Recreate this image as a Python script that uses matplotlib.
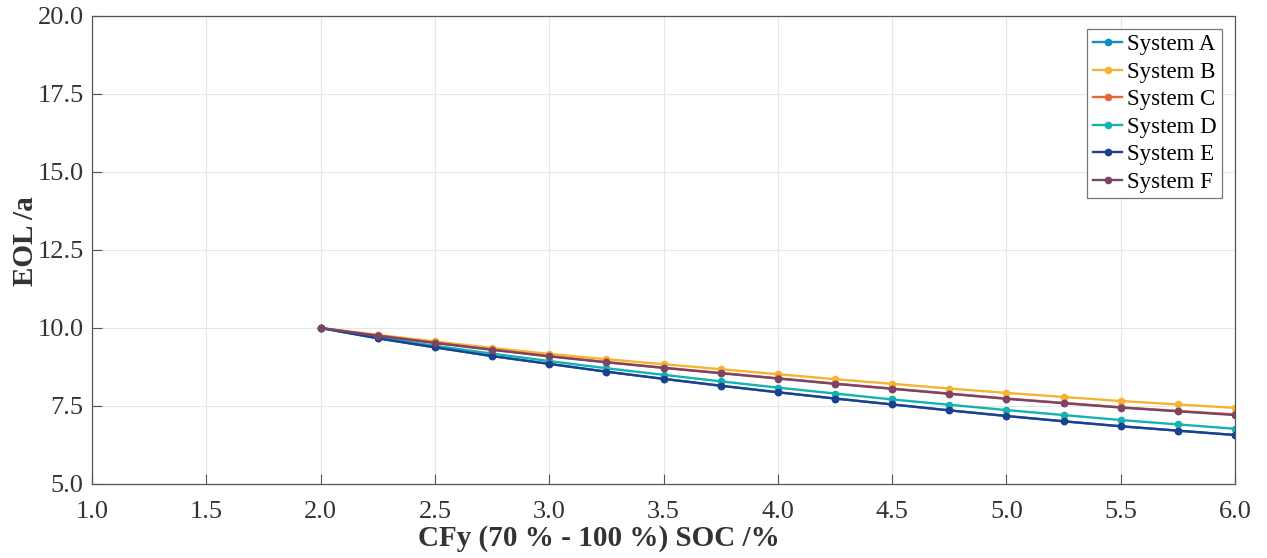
import matplotlib
matplotlib.use("Agg")
import matplotlib.pyplot as plt

x = [2.0, 2.25, 2.5, 2.75, 3.0, 3.25, 3.5, 3.75, 4.0, 4.25, 4.5, 4.75, 5.0, 5.25, 5.5, 5.75, 6.0]

sys_a = [10.00, 9.67, 9.38, 9.10, 8.85, 8.60, 8.37, 8.15, 7.94, 7.74, 7.55, 7.36, 7.18, 7.01, 6.85, 6.71, 6.57]
sys_b = [10.00, 9.78, 9.57, 9.36, 9.17, 9.00, 8.84, 8.68, 8.52, 8.36, 8.21, 8.06, 7.92, 7.79, 7.66, 7.55, 7.44]
sys_c = [10.00, 9.76, 9.53, 9.31, 9.10, 8.91, 8.73, 8.56, 8.39, 8.22, 8.06, 7.90, 7.74, 7.60, 7.46, 7.34, 7.23]
sys_d = [10.00, 9.70, 9.43, 9.18, 8.94, 8.71, 8.50, 8.29, 8.09, 7.90, 7.71, 7.54, 7.37, 7.21, 7.05, 6.91, 6.77]
sys_e = [10.00, 9.67, 9.38, 9.10, 8.85, 8.60, 8.37, 8.15, 7.94, 7.74, 7.55, 7.36, 7.18, 7.01, 6.85, 6.71, 6.57]
sys_f = [10.00, 9.75, 9.52, 9.30, 9.09, 8.90, 8.72, 8.55, 8.38, 8.21, 8.05, 7.89, 7.73, 7.59, 7.45, 7.33, 7.21]

names = ["System A", "System B", "System C", "System D", "System E", "System F"]
series = [sys_a, sys_b, sys_c, sys_d, sys_e, sys_f]
colors = ["#0e8fc0", "#f5b335", "#e8663a", "#14b3b0", "#1e3f8f", "#7b4466"]

plt.rcParams["font.family"] = ["Liberation Serif", "DejaVu Serif"]

fig = plt.figure(figsize=(12.67, 5.58), dpi=100)
ax = fig.add_axes([92/1267, 1-484/558, (1235-92)/1267, (484-16)/558])

for name, y, c in zip(names, series, colors):
    ax.plot(x, y, color=c, lw=1.7, marker="o", ms=4.5, label=name)

ax.set_xlim(1.0, 6.0)
ax.set_ylim(5.0, 20.0)
ax.set_xticks([1.0, 1.5, 2.0, 2.5, 3.0, 3.5, 4.0, 4.5, 5.0, 5.5, 6.0])
ax.set_yticks([5.0, 7.5, 10.0, 12.5, 15.0, 17.5, 20.0])
ax.xaxis.set_major_formatter(matplotlib.ticker.FormatStrFormatter("%.1f"))
ax.yaxis.set_major_formatter(matplotlib.ticker.FormatStrFormatter("%.1f"))
ax.tick_params(direction="in", labelsize=19, length=7, width=0.8, color="#555555", labelcolor="#333333")
ax.tick_params(axis="x", pad=12)
ax.tick_params(axis="y", pad=6)
ax.grid(True, color="#e6e6e6", lw=0.8)
for s in ax.spines.values():
    s.set_color("#555555")
    s.set_linewidth(0.9)

ax.set_xlabel("CFy (70 % - 100 %) SOC /%", fontsize=21, fontweight="bold", color="#333333")
ax.set_ylabel("EOL /a", fontsize=21, fontweight="bold", color="#333333")
ax.xaxis.set_label_coords(0.4436, -0.088)
ax.yaxis.set_label_coords(-0.0465, 0.52)

leg = ax.legend(loc="upper right", fontsize=16.5, fancybox=False, edgecolor="#777777",
                framealpha=1, handlelength=1.3, handletextpad=0.2, labelspacing=0.28,
                borderpad=0.25, borderaxespad=0.55)
leg.get_frame().set_linewidth(0.9)

fig.savefig("out.png", dpi=100)
